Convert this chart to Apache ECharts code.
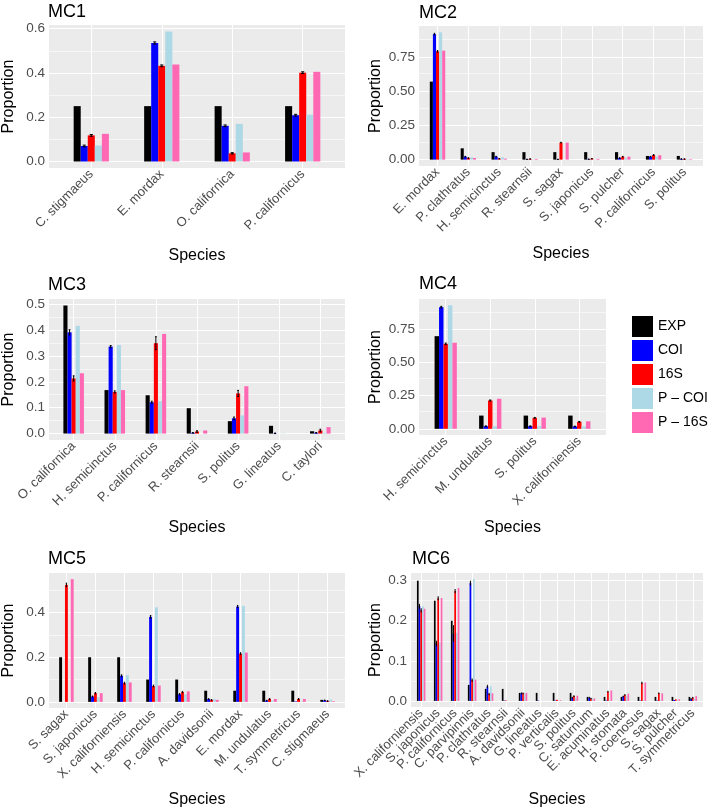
<!DOCTYPE html>
<html><head><meta charset="utf-8">
<script src="https://cdn.jsdelivr.net/npm/echarts@6/dist/echarts.min.js"></script>
<style>html,body{margin:0;padding:0;background:#fff}#c{width:709px;height:809px}</style>
</head><body><div id="c"></div><script>
// ---------- DATA ----------
const seriesNames = ['EXP', 'COI', '16S', 'P – COI', 'P – 16S'];

const mc1Species = ['C. stigmaeus', 'E. mordax', 'O. californica', 'P. californicus'];
const mc1EXP  = [0.25, 0.25, 0.25, 0.25];
const mc1COI  = [0.070, 0.535, 0.161, 0.209];
const mc1S16  = [0.118, 0.432, 0.037, 0.401];
const mc1PCOI = [0.072, 0.587, 0.170, 0.211];
const mc1PS16 = [0.125, 0.438, 0.041, 0.405];
const mc1ErrCOI = [0.004, 0.005, 0.004, 0.004];
const mc1ErrS16 = [0.004, 0.004, 0.003, 0.004];
const mc1Ticks = [0, 0.2, 0.4, 0.6];

const mc2Species = ['E. mordax', 'P. clathratus', 'H. semicinctus', 'R. stearnsii', 'S. sagax', 'S. japonicus', 'S. pulcher', 'P. californicus', 'S. politus'];
const mc2EXP  = [0.572, 0.083, 0.055, 0.055, 0.055, 0.055, 0.055, 0.027, 0.027];
const mc2COI  = [0.920, 0.022, 0.022, 0.002, 0.002, 0.003, 0.012, 0.022, 0.005];
const mc2S16  = [0.794, 0.012, 0.007, 0.005, 0.125, 0.007, 0.022, 0.034, 0.005];
const mc2PCOI = [0.933, 0.017, 0.017, 0.002, 0.001, 0.002, 0.012, 0.022, 0.004];
const mc2PS16 = [0.799, 0.012, 0.007, 0.005, 0.125, 0.006, 0.022, 0.032, 0.004];
const mc2ErrCOI = [0.006, 0.002, 0.002, 0.001, 0.001, 0.001, 0.002, 0.002, 0.001];
const mc2ErrS16 = [0.006, 0.002, 0.001, 0.001, 0.002, 0.001, 0.002, 0.003, 0.001];
const mc2Ticks = [0, 0.25, 0.5, 0.75];

const mc3Species = ['O. californica', 'H. semicinctus', 'P. californicus', 'R. stearnsii', 'S. politus', 'G. lineatus', 'C. taylori'];
const mc3EXP  = [0.495, 0.168, 0.148, 0.098, 0.048, 0.030, 0.009];
const mc3COI  = [0.391, 0.336, 0.121, 0.003, 0.059, 0.001, 0.003];
const mc3S16  = [0.213, 0.161, 0.349, 0.008, 0.155, 0.000, 0.012];
const mc3PCOI = [0.416, 0.342, 0.125, 0.000, 0.070, 0.001, 0.003];
const mc3PS16 = [0.233, 0.168, 0.385, 0.012, 0.183, 0.000, 0.025];
const mc3ErrCOI = [0.010, 0.004, 0.004, 0.001, 0.005, 0.001, 0.001];
const mc3ErrS16 = [0.010, 0.004, 0.025, 0.003, 0.012, 0.000, 0.005];
const mc3Ticks = [0, 0.1, 0.2, 0.3, 0.4, 0.5];

const mc4Species = ['H. semicinctus', 'M. undulatus', 'S. politus', 'X. californiensis'];
const mc4EXP  = [0.70, 0.10, 0.10, 0.10];
const mc4COI  = [0.919, 0.020, 0.020, 0.018];
const mc4S16  = [0.642, 0.214, 0.083, 0.053];
const mc4PCOI = [0.934, 0.020, 0.020, 0.018];
const mc4PS16 = [0.650, 0.227, 0.085, 0.057];
const mc4ErrCOI = [0.006, 0.002, 0.002, 0.002];
const mc4ErrS16 = [0.006, 0.004, 0.003, 0.003];
const mc4Ticks = [0, 0.25, 0.5, 0.75];

const mc5Species = ['S. sagax', 'S. japonicus', 'X. californiensis', 'H. semicinctus', 'P. californicus', 'A. davidsonii', 'E. mordax', 'M. undulatus', 'T. symmetricus', 'C. stigmaeus'];
const mc5EXP  = [0.20, 0.20, 0.20, 0.10, 0.10, 0.05, 0.05, 0.05, 0.05, 0.009];
const mc5COI  = [0.000, 0.024, 0.117, 0.381, 0.034, 0.013, 0.427, 0.006, 0.002, 0.007];
const mc5S16  = [0.524, 0.039, 0.084, 0.071, 0.044, 0.009, 0.216, 0.013, 0.013, 0.004];
const mc5PCOI = [0.000, 0.021, 0.120, 0.424, 0.034, 0.012, 0.430, 0.005, 0.002, 0.010];
const mc5PS16 = [0.550, 0.039, 0.087, 0.073, 0.047, 0.009, 0.221, 0.013, 0.013, 0.003];
const mc5ErrCOI = [0.000, 0.002, 0.004, 0.006, 0.003, 0.001, 0.005, 0.001, 0.000, 0.001];
const mc5ErrS16 = [0.008, 0.003, 0.004, 0.004, 0.003, 0.001, 0.004, 0.002, 0.002, 0.001];
const mc5Ticks = [0, 0.2, 0.4];

const mc6Species = ['X. californiensis', 'S. japonicus', 'P. californicus', 'C. parvipinnis', 'P. clathratus', 'R. stearnsii', 'A. davidsonii', 'G. lineatus', 'P. verticalis', 'S. politus', 'C. saturnum', 'E. acuminatus', 'H. stomata', 'P. coenosus', 'S. sagax', 'S. pulcher', 'T. symmetricus'];
const mc6EXP  = [0.30, 0.25, 0.20, 0.04, 0.03, 0.03, 0.02, 0.02, 0.02, 0.02, 0.01, 0.01, 0.01, 0.01, 0.01, 0.01, 0.01];
const mc6COI  = [0.236, 0.143, 0.168, 0.294, 0.036, 0.001, 0.019, 0.001, 0.001, 0.008, 0.008, 0.001, 0.011, 0.001, 0.001, 0.002, 0.005];
const mc6S16  = [0.226, 0.256, 0.274, 0.052, 0.017, 0.001, 0.019, 0.000, 0.003, 0.012, 0.006, 0.023, 0.015, 0.045, 0.019, 0.004, 0.008];
const mc6PCOI = [0.236, 0.145, 0.170, 0.304, 0.037, 0.000, 0.019, 0.000, 0.000, 0.008, 0.007, 0.001, 0.012, 0.001, 0.001, 0.002, 0.005];
const mc6PS16 = [0.230, 0.257, 0.282, 0.053, 0.019, 0.000, 0.020, 0.000, 0.002, 0.013, 0.006, 0.026, 0.018, 0.046, 0.019, 0.004, 0.012];
const mc6ErrCOI = [0.005, 0.006, 0.020, 0.005, 0.003, 0.000, 0.001, 0.000, 0.000, 0.001, 0.001, 0.000, 0.001, 0.000, 0.000, 0.000, 0.001];
const mc6ErrS16 = [0.004, 0.004, 0.004, 0.003, 0.002, 0.000, 0.001, 0.000, 0.000, 0.001, 0.001, 0.001, 0.001, 0.002, 0.001, 0.000, 0.001];
const mc6Ticks = [0, 0.1, 0.2, 0.3];

// ---------- STYLE / LAYOUT ----------
const colors = ['#000000', '#0000FF', '#FF0000', '#ADD8E6', '#FF69B4'];
const FONT = 'Liberation Sans, Arial, Helvetica, sans-serif';
const GROUP = 0.5; // dodge width as fraction of category band

const panels = [
  { title: 'MC1', cats: mc1Species, vals: [mc1EXP, mc1COI, mc1S16, mc1PCOI, mc1PS16], err: [mc1ErrCOI, mc1ErrS16], ticks: mc1Ticks, dec: 1,
    grid: { left: 49, top: 25, width: 296, height: 143 }, titleXY: [48, 3], yGap: 32, xGap: 80 },
  { title: 'MC2', cats: mc2Species, vals: [mc2EXP, mc2COI, mc2S16, mc2PCOI, mc2PS16], err: [mc2ErrCOI, mc2ErrS16], ticks: mc2Ticks, dec: 2,
    grid: { left: 419, top: 26, width: 284, height: 140 }, titleXY: [419, 4], yGap: 35, xGap: 80 },
  { title: 'MC3', cats: mc3Species, vals: [mc3EXP, mc3COI, mc3S16, mc3PCOI, mc3PS16], err: [mc3ErrCOI, mc3ErrS16], ticks: mc3Ticks, dec: 1,
    grid: { left: 49, top: 299, width: 296, height: 141 }, titleXY: [48, 276], yGap: 32, xGap: 80 },
  { title: 'MC4', cats: mc4Species, vals: [mc4EXP, mc4COI, mc4S16, mc4PCOI, mc4PS16], err: [mc4ErrCOI, mc4ErrS16], ticks: mc4Ticks, dec: 2,
    grid: { left: 419, top: 299, width: 187, height: 136 }, titleXY: [419, 275], yGap: 35, xGap: 85 },
  { title: 'MC5', cats: mc5Species, vals: [mc5EXP, mc5COI, mc5S16, mc5PCOI, mc5PS16], err: [mc5ErrCOI, mc5ErrS16], ticks: mc5Ticks, dec: 1,
    grid: { left: 49, top: 573, width: 296, height: 136 }, titleXY: [48, 550], yGap: 32, xGap: 84 },
  { title: 'MC6', cats: mc6Species, vals: [mc6EXP, mc6COI, mc6S16, mc6PCOI, mc6PS16], err: [mc6ErrCOI, mc6ErrS16], ticks: mc6Ticks, dec: 1,
    grid: { left: 411, top: 573, width: 292, height: 136 }, titleXY: [412, 550], yGap: 27, xGap: 85 }
];

const grids = [], xAxes = [], yAxes = [], series = [], titles = [];

function barRender(k) {
  return function (params, api) {
    const x = api.value(0), y = api.value(1);
    const band = api.size([1, 0])[0];
    const w = band * GROUP / 5;
    const base = api.coord([x, 0]);
    const top = api.coord([x, y]);
    const left = base[0] - band * GROUP / 2 + k * w;
    return { type: 'rect', shape: { x: left, y: Math.min(top[1], base[1]), width: w, height: Math.abs(base[1] - top[1]) },
      style: { fill: colors[k] } };
  };
}
function errRender(k) {
  return function (params, api) {
    const x = api.value(0), v = api.value(1), e = api.value(2);
    if (!(e > 0)) return null;
    const band = api.size([1, 0])[0];
    const w = band * GROUP / 5;
    const cx = api.coord([x, 0])[0] - band * GROUP / 2 + k * w + w / 2;
    const pLo = api.coord([x, v - e])[1], pHi = api.coord([x, v + e])[1];
    const cap = w * 0.22;
    const st = { stroke: '#000', lineWidth: 1, fill: null };
    return { type: 'group', children: [
      { type: 'line', shape: { x1: cx, y1: pLo, x2: cx, y2: pHi }, style: st },
      { type: 'line', shape: { x1: cx - cap, y1: pLo, x2: cx + cap, y2: pLo }, style: st },
      { type: 'line', shape: { x1: cx - cap, y1: pHi, x2: cx + cap, y2: pHi }, style: st }
    ] };
  };
}

panels.forEach((p, gi) => {
  const n = p.cats.length;
  let dataMax = 0;
  p.vals.forEach((arr, k) => arr.forEach((v, i) => {
    let t = v;
    if (k === 1) t = v + p.err[0][i];
    if (k === 2) t = v + p.err[1][i];
    dataMax = Math.max(dataMax, t);
  }));
  const yMin = -0.05 * dataMax, yMax = 1.05 * dataMax;
  const step = p.ticks[1] - p.ticks[0];
  const minor = [];
  p.ticks.forEach(t => { const m = t + step / 2; if (m < yMax) minor.push(m); });

  grids.push(Object.assign({ show: true, backgroundColor: '#EBEBEB', borderWidth: 0, containLabel: false, z: 0 }, p.grid));
  titles.push({ text: p.title, left: p.titleXY[0], top: p.titleXY[1], padding: 0,
    textStyle: { fontSize: 18, fontWeight: 'normal', color: '#000', fontFamily: FONT } });
  const idx = [];
  for (let i = 0; i < n; i++) idx.push(i);
  const xMin = -0.6, xMax = n - 0.4;
  // empty labels at the axis ends so real labels are never treated as min/max labels
  const labelVals = [xMin].concat(idx, [xMax]);
  xAxes.push({ type: 'value', gridIndex: gi, min: xMin, max: xMax,
    axisLine: { show: false }, splitLine: { show: false },
    axisTick: { show: true, customValues: idx, length: 3, lineStyle: { color: '#333', width: 1 } },
    axisLabel: { customValues: labelVals,
      formatter: v => (Math.abs(v - Math.round(v)) < 1e-6 ? (p.cats[Math.round(v)] || '') : ''),
      rotate: 45, margin: 4, hideOverlap: false,
      color: '#4D4D4D', fontSize: 13, fontFamily: FONT },
    name: 'Species', nameLocation: 'middle', nameGap: p.xGap,
    nameTextStyle: { fontSize: 16, color: '#000', fontFamily: FONT } });
  yAxes.push({ type: 'value', gridIndex: gi, min: yMin, max: yMax,
    axisLine: { show: false }, splitLine: { show: false },
    axisTick: { show: true, customValues: p.ticks, length: 3, lineStyle: { color: '#333', width: 1 } },
    axisLabel: { customValues: p.ticks, formatter: v => v.toFixed(p.dec), margin: 4,
      showMinLabel: true, showMaxLabel: true,
      color: '#4D4D4D', fontSize: 13.5, fontFamily: FONT },
    name: 'Proportion', nameLocation: 'middle', nameGap: p.yGap, nameRotate: 90,
    nameTextStyle: { fontSize: 16, color: '#000', fontFamily: FONT } });

  // grid lines through the axes (kept below the bars)
  const ml = [];
  minor.forEach(v => ml.push({ yAxis: v, lineStyle: { width: 0.55 } }));
  p.ticks.forEach(v => ml.push({ yAxis: v, lineStyle: { width: 1.1 } }));
  idx.forEach(i => ml.push({ xAxis: i, lineStyle: { width: 1.1 } }));
  series.push({ type: 'line', name: 'grid' + gi, xAxisIndex: gi, yAxisIndex: gi, data: [[0, 0]], symbol: 'none',
    lineStyle: { width: 0 }, silent: true, z: 1, animation: false,
    markLine: { z: 1, silent: true, symbol: ['none', 'none'], label: { show: false }, animation: false,
      lineStyle: { color: '#FFFFFF', type: 'solid' }, emphasis: { disabled: true }, data: ml } });

  p.vals.forEach((arr, k) => {
    series.push({ type: 'custom', name: seriesNames[k], xAxisIndex: gi, yAxisIndex: gi, z: 3,
      itemStyle: { color: colors[k] }, renderItem: barRender(k), encode: { x: 0, y: 1 },
      data: arr.map((v, i) => [i, v]), animation: false, silent: true });
  });
  [1, 2].forEach((k, e) => {
    series.push({ type: 'custom', name: 'err' + gi + '_' + k, xAxisIndex: gi, yAxisIndex: gi, z: 4,
      renderItem: errRender(k), encode: { x: 0, y: 1 },
      data: p.vals[k].map((v, i) => [i, v, p.err[e][i]]), animation: false, silent: true });
  });
});

const chart = echarts.init(document.getElementById('c'), null, { renderer: 'canvas' });
chart.setOption({
  backgroundColor: '#FFFFFF',
  animation: false,
  title: titles,
  grid: grids,
  xAxis: xAxes,
  yAxis: yAxes,
  legend: { data: seriesNames, orient: 'vertical', left: 632, top: 316, padding: 0,
    itemWidth: 21, itemHeight: 21, itemGap: 3, icon: 'rect', selectedMode: false,
    textStyle: { fontSize: 14, color: '#000', fontFamily: FONT } },
  series: series
});
</script></body></html>
